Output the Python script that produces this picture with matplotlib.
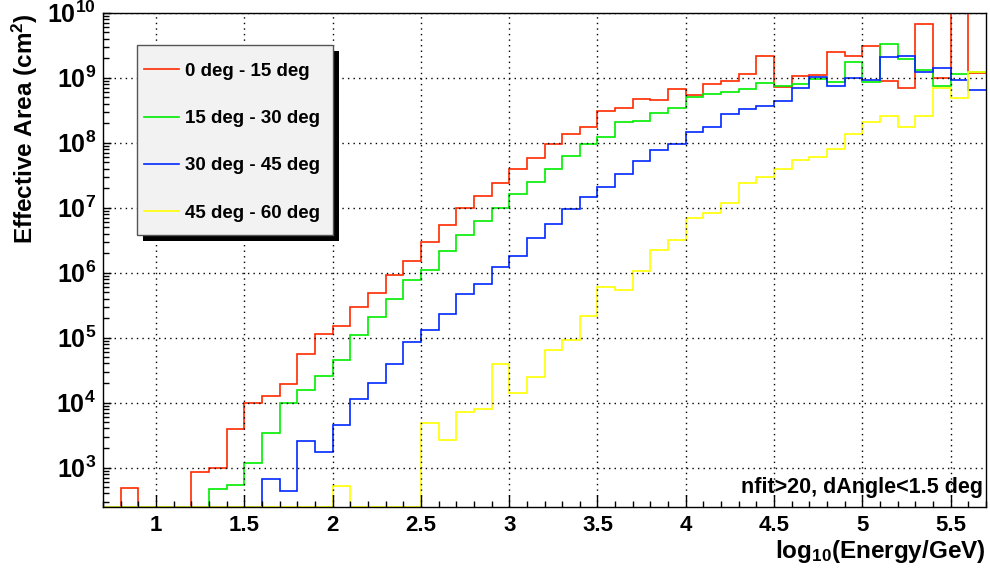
import numpy as np
import matplotlib
matplotlib.use("Agg")
import matplotlib.pyplot as plt
from matplotlib.patches import Rectangle
from matplotlib.ticker import LogLocator, MultipleLocator, FuncFormatter, NullFormatter

# histogram binning: log10(E/GeV) from 0.7 to 5.7, 0.1 wide
bin_lo = 0.7
bin_hi = 5.7
nbins = 50

# effective area per bin (cm^2), 0 = empty bin
area_0_15 = [0, 4.8e2, 0, 0, 0, 8.4e2, 9.8e2, 3.9e3, 9.8e3, 1.28e4,
             1.92e4, 5.5e4, 1.13e5, 1.51e5, 3.0e5, 4.8e5, 9.2e5, 1.5e6, 3.0e6, 5.4e6,
             1.0e7, 1.53e7, 2.37e7, 3.9e7, 5.9e7, 9.5e7, 1.37e8, 1.73e8, 3.1e8, 3.45e8,
             4.65e8, 4.5e8, 6.7e8, 5.5e8, 8.0e8, 8.8e8, 1.15e9, 2.16e9, 7.3e8, 1.05e9,
             1.11e9, 2.45e9, 2.13e9, 3.1e9, 8.9e8, 6.9e8, 6.6e9, 9.8e8, 1.6e10, 1.2e9]
area_15_30 = [0, 0, 0, 0, 0, 0, 4.7e2, 5.4e2, 1.17e3, 3.4e3,
              1.0e4, 1.55e4, 2.6e4, 4.6e4, 1.09e5, 2.06e5, 3.9e5, 7.6e5, 1.1e6, 2.17e6,
              3.76e6, 6.3e6, 1.0e7, 1.62e7, 2.48e7, 3.9e7, 6.3e7, 9.4e7, 1.24e8, 2.1e8,
              2.16e8, 2.83e8, 3.38e8, 5.1e8, 5.6e8, 6.1e8, 6.8e8, 8.3e8, 7.4e8, 8.0e8,
              9.7e8, 8.6e8, 1.73e9, 8.5e8, 3.26e9, 1.94e9, 1.3e9, 7.4e8, 1.13e9, 1.22e9]
area_30_45 = [0, 0, 0, 0, 0, 0, 0, 0, 0, 6.6e2,
              4.4e2, 2.6e3, 1.76e3, 4.5e3, 1.14e4, 1.99e4, 3.9e4, 8.7e4, 1.33e5, 2.29e5,
              4.65e5, 6.8e5, 1.24e6, 1.8e6, 3.4e6, 5.6e6, 9.6e6, 1.48e7, 2.06e7, 3.27e7,
              5.3e7, 7.7e7, 9.7e7, 1.45e8, 1.76e8, 2.76e8, 3.3e8, 3.67e8, 4.43e8, 6.9e8,
              1.02e9, 7.4e8, 1.0e9, 9.1e8, 2.1e9, 2.18e9, 1.24e9, 1.43e9, 9.1e8, 6.5e8]
area_45_60 = [0, 0, 0, 0, 0, 0, 0, 0, 0, 0,
              0, 0, 0, 5.2e2, 0, 0, 0, 0, 4.8e3, 2.7e3,
              7.1e3, 7.9e3, 3.9e4, 1.43e4, 2.45e4, 6.4e4, 9.2e4, 2.13e5, 6.1e5, 5.5e5,
              1.07e6, 2.2e6, 3.2e6, 6.9e6, 8.4e6, 1.17e7, 2.43e7, 3.0e7, 3.9e7, 5.4e7,
              6.1e7, 8.1e7, 1.36e8, 2.1e8, 2.55e8, 1.76e8, 2.58e8, 6.9e8, 4.8e8, 1.24e9]

labels = ["0 deg - 15 deg", "15 deg - 30 deg", "30 deg - 45 deg", "45 deg - 60 deg"]
colors = ["#ff2a00", "#00ee00", "#0028ff", "#ffff00"]
ymin = 2.48e2
ymax = 1e10

plt.rcParams.update({
    "font.family": ["Liberation Sans", "DejaVu Sans"],
    "font.weight": "bold",
    "mathtext.fontset": "custom",
    "mathtext.rm": "Liberation Sans:bold",
    "mathtext.bf": "Liberation Sans:bold",
    "mathtext.it": "Liberation Sans:bold",
})

fig = plt.figure(figsize=(9.9, 5.8), dpi=100)
ax = fig.add_axes([0.104, 0.126, 0.892, 0.852])

edges = np.linspace(bin_lo, bin_hi, nbins + 1)
for vals, lab, col in zip([area_0_15, area_15_30, area_30_45, area_45_60], labels, colors):
    v = np.maximum(np.array(vals, dtype=float), ymin)  # empty bins sit on the bottom
    ax.stairs(v, edges, color=col, lw=1.2, label=lab, baseline=None)

ax.set_xlim(bin_lo, bin_hi)
ax.set_yscale("log")
ax.set_ylim(ymin, ymax)

ax.xaxis.set_major_locator(MultipleLocator(0.5))
ax.xaxis.set_minor_locator(MultipleLocator(0.1))
ax.xaxis.set_major_formatter(FuncFormatter(lambda x, p: "%g" % x))
ax.yaxis.set_major_locator(LogLocator(base=10, numticks=20))
ax.yaxis.set_minor_locator(LogLocator(base=10, subs=np.arange(2, 10), numticks=20))
ax.yaxis.set_minor_formatter(NullFormatter())
ax.yaxis.set_major_formatter(FuncFormatter(lambda y, p: r"$10^{%d}$" % round(np.log10(y))))

ax.tick_params(axis="both", which="both", direction="in", top=False, right=False, colors="black")
ax.tick_params(axis="x", which="major", length=9, width=1, labelsize=16, pad=6)
ax.tick_params(axis="x", which="minor", length=4.5, width=1)
ax.tick_params(axis="y", which="major", length=6, width=1, labelsize=18, pad=5)
ax.tick_params(axis="y", which="minor", length=4, width=1)

ax.grid(True, which="major", color="black", linestyle=(0, (1, 3)), linewidth=1)
for s in ax.spines.values():
    s.set_linewidth(1)
    s.set_color("black")

ax.set_xlabel(r"log$_{10}$(Energy/GeV)", fontsize=17.5, fontweight="bold", loc="right")
ax.xaxis.set_label_coords(1.0, -0.063)
ax.set_ylabel(r"Effective Area (cm$^{2}$)", fontsize=17.5, fontweight="bold", loc="top")
ax.yaxis.set_label_coords(-0.071, 1.0)

ax.text(0.997, 0.028, "nfit>20, dAngle<1.5 deg", transform=ax.transAxes,
        ha="right", va="baseline", fontsize=15.5, fontweight="bold")

# legend box with a hard black shadow, ROOT style
ax.add_patch(Rectangle((0.0453, 0.5382), 0.222, 0.3843, transform=ax.transAxes,
                       facecolor="black", edgecolor="none", zorder=5))
ax.add_patch(Rectangle((0.0385, 0.5503), 0.222, 0.3843, transform=ax.transAxes,
                       facecolor="#f2f2f2", edgecolor="#555555", lw=1, zorder=6))
leg = ax.legend(loc="upper left", bbox_to_anchor=(0.0464, 0.899), fontsize=13.5,
                handlelength=1.85, handletextpad=0.32, labelspacing=1.61, borderpad=0,
                borderaxespad=0, frameon=False)
leg.set_zorder(7)
for t in leg.get_texts():
    t.set_fontweight("bold")

fig.savefig("out.png", dpi=100)
